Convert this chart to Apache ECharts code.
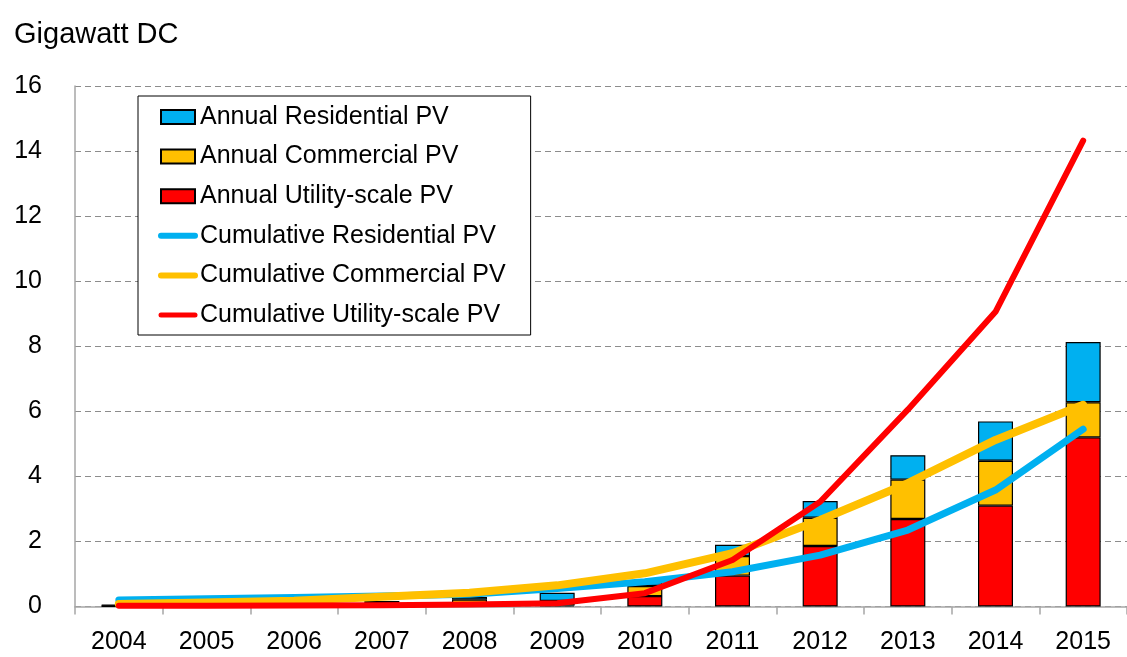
<!DOCTYPE html>
<html>
<head>
<meta charset="utf-8">
<title>US PV installations</title>
<script src="https://cdn.jsdelivr.net/npm/echarts@6/dist/echarts.min.js"></script>
<style>
    html, body { margin: 0; padding: 0; background: #fff; }
    #chart { width: 1127px; height: 657px; }
</style>
</head>
<body>
<div id="chart"></div>
<script>
    var years = ['2004', '2005', '2006', '2007', '2008', '2009', '2010', '2011', '2012', '2013', '2014', '2015'];

    // annual installs (stacked bars), GW DC
    var annualUtility = [0.01, 0.01, 0.01, 0.01, 0.02, 0.03, 0.32, 0.95, 1.86, 2.69, 3.10, 5.20];
    var annualCommercial = [0.02, 0.03, 0.05, 0.08, 0.19, 0.14, 0.31, 0.60, 0.87, 1.21, 1.38, 1.08];
    var annualResidential = [0.02, 0.03, 0.04, 0.08, 0.08, 0.25, 0.12, 0.35, 0.51, 0.75, 1.21, 1.85];

    // cumulative (lines)
    var cumResidential = [0.20, 0.24, 0.28, 0.32, 0.38, 0.55, 0.76, 1.07, 1.58, 2.35, 3.58, 5.45];
    var cumCommercial = [0.08, 0.12, 0.18, 0.30, 0.42, 0.65, 1.02, 1.64, 2.66, 3.79, 5.12, 6.20];
    var cumUtility = [0.02, 0.02, 0.03, 0.04, 0.06, 0.10, 0.41, 1.43, 3.22, 6.05, 9.06, 14.32];

    var BLUE = '#00B0F0', YELLOW = '#FFC000', RED = '#FF0000';
    var FONT = '"Liberation Sans", Arial, sans-serif';

    var barSeries = function (name, color, data) {
        return {
            name: name,
            type: 'bar',
            stack: 'annual',
            barWidth: 35,
            itemStyle: { color: color, borderColor: '#000', borderWidth: 1.2 },
            data: data
        };
    };

    var lineSeries = function (name, color, width, data) {
        return {
            name: name,
            type: 'line',
            symbol: 'none',
            z: 3,
            lineStyle: { color: color, width: width, cap: 'round', join: 'round' },
            itemStyle: { color: color },
            data: data
        };
    };

    // legend entry for a line: thick line, no marker
    var lineLegend = function (name, width) {
        return {
            name: name,
            lineStyle: { width: width, cap: 'round' },
            itemStyle: { opacity: 0 }
        };
    };

    var chart = echarts.init(document.getElementById('chart'));
    chart.setOption({
        animation: false,
        backgroundColor: '#fff',
        title: {
            text: 'Gigawatt DC',
            left: 9,
            top: 15,
            textStyle: { fontFamily: FONT, fontSize: 29, fontWeight: 'normal', color: '#000' }
        },
        legend: {
            orient: 'vertical',
            left: 138,
            top: 96,
            padding: [8, 25, 7, 20],
            itemGap: 13.6,
            itemWidth: 34,
            itemHeight: 14,
            backgroundColor: '#fff',
            borderColor: '#000',
            borderWidth: 1,
            selectedMode: false,
            textStyle: { fontFamily: FONT, fontSize: 25, color: '#000', lineHeight: 26 },
            data: [
                { name: 'Annual Residential PV', icon: 'rect' },
                { name: 'Annual Commercial PV', icon: 'rect' },
                { name: 'Annual Utility-scale PV', icon: 'rect' },
                lineLegend('Cumulative Residential PV', 6),
                lineLegend('Cumulative Commercial PV', 6),
                lineLegend('Cumulative Utility-scale PV', 5)
            ]
        },
        grid: { left: 75, right: -10, top: 86, bottom: 50.5 },
        xAxis: {
            type: 'category',
            data: years,
            axisLine: { lineStyle: { color: '#A6A6A6', width: 1.5 } },
            axisTick: { show: true, length: 8, lineStyle: { color: '#A6A6A6', width: 1.5 } },
            axisLabel: { fontFamily: FONT, fontSize: 25, color: '#000', margin: 23 }
        },
        yAxis: {
            type: 'value',
            min: 0,
            max: 16,
            interval: 2,
            axisLine: { show: true, lineStyle: { color: '#A6A6A6', width: 1.5 } },
            axisTick: { show: false },
            splitLine: { lineStyle: { color: '#8C8C8C', type: [6, 4], width: 1 } },
            axisLabel: { fontFamily: FONT, fontSize: 25, color: '#000', margin: 33 }
        },
        series: [
            barSeries('Annual Utility-scale PV', RED, annualUtility),
            barSeries('Annual Commercial PV', YELLOW, annualCommercial),
            barSeries('Annual Residential PV', BLUE, annualResidential),
            lineSeries('Cumulative Residential PV', BLUE, 7, cumResidential),
            lineSeries('Cumulative Commercial PV', YELLOW, 8, cumCommercial),
            lineSeries('Cumulative Utility-scale PV', RED, 6, cumUtility)
        ]
    });
</script>
</body>
</html>
